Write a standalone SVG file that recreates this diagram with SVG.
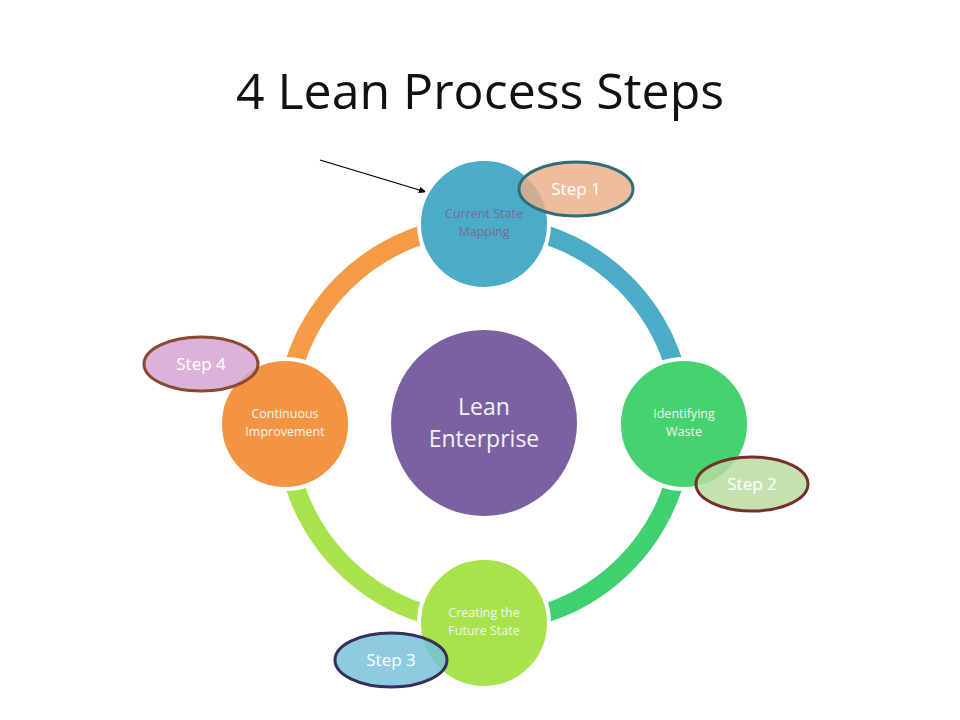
<svg xmlns="http://www.w3.org/2000/svg" width="960" height="720" viewBox="0 0 960 720">
<defs>
<style>
.title{font-family:"Open Sans","Liberation Sans",sans-serif;font-size:50px;fill:#111}
.arc{fill:none;stroke-width:19}
.node{stroke:#fff;stroke-width:4}
.lbl{font-family:"Open Sans","Liberation Sans",sans-serif;font-size:12.5px;fill:#f4f4f4;text-anchor:middle}
.step{stroke-width:3;fill-opacity:0.82}
.stxt{font-family:"Open Sans","Liberation Sans",sans-serif;font-size:17px;fill:#fff;text-anchor:middle}
</style>
<marker id="ah" viewBox="0 0 10 10" refX="9" refY="5" markerWidth="8" markerHeight="8" orient="auto" markerUnits="userSpaceOnUse">
<path d="M0,1 L10,5 L0,9 z" fill="#000"/>
</marker>
</defs>
<rect width="960" height="720" fill="#fff"/>
<text class="title" x="480" y="109" text-anchor="middle">4 Lean Process Steps</text>
<g id="connectors">
<path class="arc" stroke="#4aacc6" d="M484,225 A199,199 0 0 1 683,424"/>
<path class="arc" stroke="#3fd070" d="M683,424 A199,199 0 0 1 484,623"/>
<path class="arc" stroke="#a9e34b" d="M484,623 A199,199 0 0 1 285,424"/>
<path class="arc" stroke="#f59a45" d="M285,424 A199,199 0 0 1 484,225"/>
<line x1="320" y1="160" x2="426" y2="192" stroke="#000" stroke-width="1.3" marker-end="url(#ah)"/>
</g>
<g id="center">
<circle cx="484" cy="423" r="93" fill="#7a62a0"/>
<text x="484" y="415" font-family="Open Sans, Liberation Sans, sans-serif" font-size="23" fill="#f4f0f8" text-anchor="middle">Lean</text>
<text x="484" y="447" font-family="Open Sans, Liberation Sans, sans-serif" font-size="23" fill="#f4f0f8" text-anchor="middle">Enterprise</text>
</g>
<g id="node-top">
<circle class="node" cx="484" cy="224" r="65" fill="#4aacc6"/>
<text class="lbl" x="484" y="218" style="fill:#7a6a98">Current State</text>
<text class="lbl" x="484" y="236" style="fill:#7a6a98">Mapping</text>
</g>
<g id="node-right">
<circle class="node" cx="684" cy="424" r="65" fill="#44d36e"/>
<text class="lbl" x="684" y="418">Identifying</text>
<text class="lbl" x="684" y="436">Waste</text>
</g>
<g id="node-bottom">
<circle class="node" cx="484" cy="623" r="65" fill="#a9e34b"/>
<text class="lbl" x="484" y="617">Creating the</text>
<text class="lbl" x="484" y="635">Future State</text>
</g>
<g id="node-left">
<circle class="node" cx="285" cy="424" r="65" fill="#f39443"/>
<text class="lbl" x="285" y="418">Continuous</text>
<text class="lbl" x="285" y="436">Improvement</text>
</g>
<g id="step1">
<ellipse class="step" cx="576" cy="189" rx="57" ry="27" fill="#eaae88" stroke="#2f6e78"/>
<text class="stxt" x="576" y="195">Step 1</text>
</g>
<g id="step2">
<ellipse class="step" cx="752" cy="484" rx="56" ry="27" fill="#b7dca0" stroke="#7a2e2a"/>
<text class="stxt" x="752" y="490">Step 2</text>
</g>
<g id="step3">
<ellipse class="step" cx="391" cy="660" rx="56" ry="27" fill="#74c0da" stroke="#37305e"/>
<text class="stxt" x="391" y="666">Step 3</text>
</g>
<g id="step4">
<ellipse class="step" cx="201" cy="364" rx="57" ry="27" fill="#d3a2cf" stroke="#8a4a30"/>
<text class="stxt" x="201" y="370">Step 4</text>
</g>
</svg>
